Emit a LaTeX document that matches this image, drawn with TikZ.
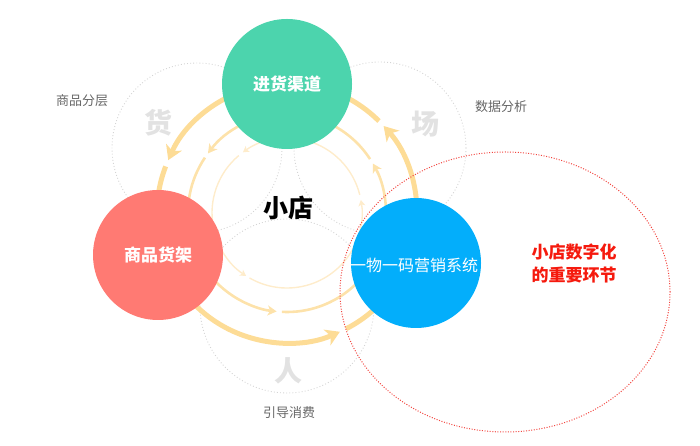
\documentclass[tikz,border=0pt]{standalone}
\usepackage{fontspec}
\setmainfont{Noto Sans CJK SC}
\usetikzlibrary{arrows.meta,calc}
\definecolor{cgreen}{HTML}{4CD4AD}
\definecolor{cred}{HTML}{FF7A73}
\definecolor{cblue}{HTML}{03AEFB}
\definecolor{ring1}{HTML}{FDDC96}
\definecolor{ring2}{HTML}{FDE2AA}
\definecolor{ring3}{HTML}{FEECCB}
\definecolor{dotgray}{HTML}{D4D4D4}
\definecolor{labgray}{HTML}{666666}
\definecolor{biggray}{HTML}{E2E2E2}
\definecolor{ellred}{HTML}{F2453F}
\definecolor{txtred}{HTML}{F51A0E}
\tikzset{
  graydot/.style={draw=dotgray, line width=0.9pt, dash pattern=on 0.9pt off 2.2pt},
  ringouter/.style={draw=ring1, line width=5pt, -{Stealth[length=14pt,width=17pt,inset=4pt]}},
  ringmid/.style={draw=ring2, line width=2.6pt, -{Stealth[length=9pt,width=10pt,inset=2.5pt]}},
  ringinner/.style={draw=ring3, line width=1.4pt, -{Stealth[length=6pt,width=7pt,inset=1.5pt]}},
  bigcircle/.style={circle, minimum size=130pt, inner sep=0pt, text=white, font=\fontsize{17}{20}\selectfont},
  lab/.style={text=labgray, font=\fontsize{13}{15}\selectfont},
  biglab/.style={text=biggray, font=\bfseries\fontsize{28}{30}\selectfont},
}
\begin{document}
\begin{tikzpicture}[x=1pt,y=1pt]
\useasboundingbox (0,0) rectangle (700,446);
\coordinate (C) at (287,233);
% dotted gray circles
\draw[graydot] (197,298) circle[radius=85];
\draw[graydot] (380,298) circle[radius=86];
\draw[graydot] (287,140) circle[radius=87];
% rings
\foreach \a/\b in {-63/42, 45/156, 159/294}
  \draw[ringouter] ($(C)+(\a:130)$) arc[start angle=\a, end angle=\b, radius=130];
\foreach \a/\b in {-93/30, 33/143, 146/264}
  \draw[ringmid] ($(C)+(\a:99)$) arc[start angle=\a, end angle=\b, radius=99];
\foreach \a/\b in {-120/10, 14/126, 130/237}
  \draw[ringinner] ($(C)+(\a:75)$) arc[start angle=\a, end angle=\b, radius=75];
% labels
\node[lab] (l1) at (82,345) {商品分层};
\node[lab] (l2) at (501,339) {数据分析};
\node[lab] (l3) at (289,33) {引导消费};
\node[biglab] (b1) at (158,323) {货};
\node[biglab] (b2) at (425,322) {场};
\node[biglab] (b3) at (288,75) {人};
\node[font=\bfseries\fontsize{25}{28}\selectfont] (center) at (288,238) {小店};
% main circles
\node[bigcircle, fill=cgreen, font=\bfseries\fontsize{17}{20}\selectfont] (green) at (287,362) {进货渠道};
\node[bigcircle, fill=cred, font=\bfseries\fontsize{17}{20}\selectfont] (red) at (158,191) {商品货架};
\node[bigcircle, fill=cblue] (blue) at (416,183) {};
\node[text=white, font=\fontsize{16}{19}\selectfont, inner sep=0pt] (bluetxt) at (414,181) {一物一码营销系统};
% red ellipse
\draw[draw=ellred, line width=1pt, dash pattern=on 1pt off 1.6pt] (505,154) ellipse[x radius=165, y radius=140];
\node[text=txtred, font=\bfseries\fontsize{17}{23}\selectfont, align=center] (note) at (574,182) {小店数字化\\的重要环节};
\end{tikzpicture}
\end{document}
